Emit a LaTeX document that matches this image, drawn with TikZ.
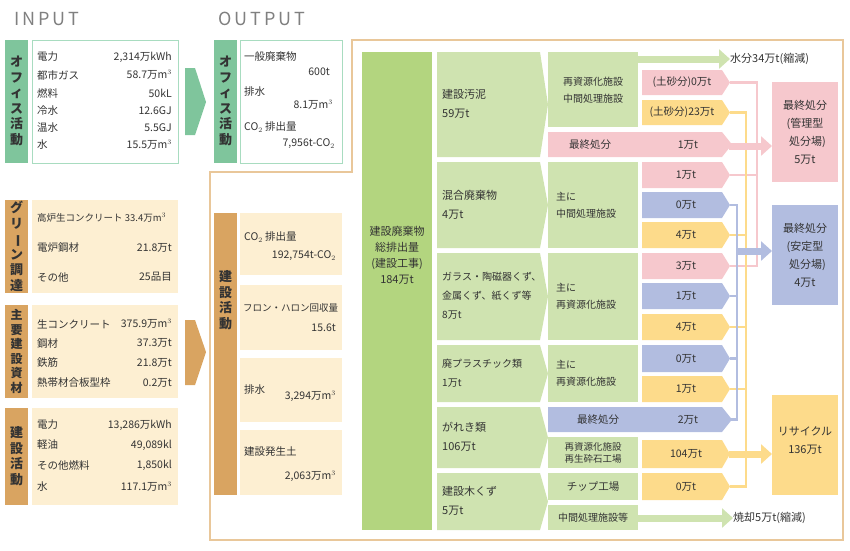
\documentclass[tikz,border=0pt]{standalone}
\usepackage{fontspec}
\usepackage{graphicx}
\setmainfont{Noto Sans CJK JP}
\usetikzlibrary{arrows.meta}
\definecolor{gl}{HTML}{7FC59C}
\definecolor{gb}{HTML}{A8DCC0}
\definecolor{tanc}{HTML}{D9A461}
\definecolor{tb}{HTML}{FDEFD2}
\definecolor{bg}{HTML}{B3D57F}
\definecolor{cg}{HTML}{CFE3B0}
\definecolor{pk}{HTML}{F6C8CD}
\definecolor{bl}{HTML}{B2BDE0}
\definecolor{ye}{HTML}{FDDB8B}
\definecolor{ol}{HTML}{E9C79A}
\definecolor{tx}{HTML}{333333}
\newcommand\chevbox[6]{\fill[#5] (#1,#2) -- (#3,#2) -- ({#3+#6},{(#2+#4)/2}) -- (#3,#4) -- (#1,#4) -- cycle;}
\newcommand\vt{\rotatebox[origin=c]{-90}{ー}}
\tikzset{
 t/.style={text=tx,font=\fontsize{10.5}{13}\selectfont,inner sep=0pt},
 tl/.style={t,anchor=west},
 tr/.style={t,anchor=east},
 vlab/.style={t,font=\fontsize{13}{15.5}\selectfont\bfseries,align=center},
 ttl/.style={text=gray,font=\fontsize{18}{18}\selectfont,inner sep=0pt,anchor=west},
 big/.style={line width=7pt,-{Triangle[length=11pt,width=19pt]}},
 jl/.style={line width=2.5pt}
}
\begin{document}
\begin{tikzpicture}[x=1pt,y=-1pt]
\useasboundingbox (0,0) rectangle (850,550);
\node[ttl] (tin) at (14,19) {I\,N\,P\,U\,T};
\node[ttl] (tout) at (218,19) {O\,U\,T\,P\,U\,T};
% office input
\fill[gl] (5,40) rectangle (28,163);
\node[vlab] (l1) at (16.5,101) {オ\\フ\\ィ\\ス\\活\\動};
\draw[gb,line width=1pt] (32,40) rectangle (178,163);
\node[tl] (a1) at (37,57) {電力}; \node[tr] (b1) at (172,57) {2,314万kWh};
\node[tl] (a2) at (37,75) {都市ガス}; \node[tr] (b2) at (172,75) {58.7万m$^3$};
\node[tl] (a3) at (37,93) {燃料}; \node[tr] (b3) at (172,93) {50kL};
\node[tl] (a4) at (37,111) {冷水}; \node[tr] (b4) at (172,111) {12.6GJ};
\node[tl] (a5) at (37,128) {温水}; \node[tr] (b5) at (172,128) {5.5GJ};
\node[tl] (a6) at (37,145) {水}; \node[tr] (b6) at (172,145) {15.5万m$^3$};
\fill[gl] (185,68) -- (195,68) -- (206,102) -- (195,135) -- (185,135) -- cycle;
% office output
\fill[gl] (214,40) rectangle (237,163);
\node[vlab] (l2) at (225.5,101) {オ\\フ\\ィ\\ス\\活\\動};
\draw[gb,line width=1pt] (240,40) rectangle (342,163);
\node[tl] (c1) at (244,57) {一般廃棄物}; \node[tr] (d1) at (330,72) {600t};
\node[tl] (c2) at (244,92) {排水}; \node[tr] (d2) at (333,105) {8.1万m$^3$};
\node[tl] (c3) at (244,127) {CO$_2$ 排出量}; \node[tr] (d3) at (335,144) {7,956t-CO$_2$};
% green procurement
\fill[tanc] (5,200) rectangle (28,293);
\node[vlab] (l3) at (16.5,246.5) {グ\\リ\\\vt\\ン\\調\\達};
\fill[tb] (32,200) rectangle (178,293);
\node[tl,font=\fontsize{9.5}{11}\selectfont] (e1) at (37,218) {高炉生コンクリート 33.4万m$^3$};
\node[tl] (e2) at (37,248) {電炉鋼材}; \node[tr] (f2) at (172,248) {21.8万t};
\node[tl] (e3) at (37,277) {その他}; \node[tr] (f3) at (172,277) {25品目};
% main materials
\fill[tanc] (5,305) rectangle (28,398);
\node[vlab,font=\fontsize{12}{14.5}\selectfont\bfseries] (l4) at (16.5,351.5) {主\\要\\建\\設\\資\\材};
\fill[tb] (32,305) rectangle (178,398);
\node[tl] (g1) at (37,324) {生コンクリート}; \node[tr] (h1) at (172,324) {375.9万m$^3$};
\node[tl] (g2) at (37,343) {鋼材}; \node[tr] (h2) at (172,343) {37.3万t};
\node[tl] (g3) at (37,363) {鉄筋}; \node[tr] (h3) at (172,363) {21.8万t};
\node[tl] (g4) at (37,383) {熱帯材合板型枠}; \node[tr] (h4) at (172,383) {0.2万t};
% construction input
\fill[tanc] (5,408) rectangle (28,505);
\node[vlab] (l5) at (16.5,456) {建\\設\\活\\動};
\fill[tb] (32,408) rectangle (178,505);
\node[tl] (i1) at (37,425) {電力}; \node[tr] (j1) at (172,425) {13,286万kWh};
\node[tl] (i2) at (37,445) {軽油}; \node[tr] (j2) at (172,445) {49,089kl};
\node[tl] (i3) at (37,465) {その他燃料}; \node[tr] (j3) at (172,465) {1,850kl};
\node[tl] (i4) at (37,487) {水}; \node[tr] (j4) at (172,487) {117.1万m$^3$};
\fill[tanc] (185,320) -- (195,320) -- (206,352) -- (195,385) -- (185,385) -- cycle;
% outline
\draw[ol,line width=1.2pt] (352,40) -- (843,40) -- (843,540) -- (210,540) -- (210,172) -- (352,172) -- cycle;
% construction output
\fill[tanc] (214,213) rectangle (237,495);
\node[vlab] (l6) at (225.5,300) {建\\設\\活\\動};
\fill[tb] (240,213) rectangle (342,275);
\node[tl] (k1) at (244,237) {CO$_2$ 排出量}; \node[tr] (m1) at (336,256) {192,754t-CO$_2$};
\fill[tb] (240,285) rectangle (342,350);
\node[tl,font=\fontsize{9.5}{11}\selectfont] (k2) at (243,308) {フロン・ハロン回収量}; \node[tr] (m2) at (336,328) {15.6t};
\fill[tb] (240,358) rectangle (342,422);
\node[tl] (k3) at (244,390) {排水}; \node[tr] (m3) at (336,396) {3,294万m$^3$};
\fill[tb] (240,430) rectangle (342,495);
\node[tl] (k4) at (244,452) {建設発生土}; \node[tr] (m4) at (336,476) {2,063万m$^3$};
% total
\fill[bg] (362,52) rectangle (432,530);
\node[t,align=center,font=\fontsize{11}{16}\selectfont] (tot) at (397,255) {建設廃棄物\\総排出量\\(建設工事)\\184万t};
% categories
\chevbox{437}{52}{540}{157}{cg}{8}
\node[tl,align=left,font=\fontsize{11}{19}\selectfont] (n1) at (442,104) {建設汚泥\\59万t};
\chevbox{437}{162}{540}{248}{cg}{8}
\node[tl,align=left,font=\fontsize{11}{19}\selectfont] (n2) at (442,205) {混合廃棄物\\4万t};
\chevbox{437}{253}{540}{340}{cg}{8}
\node[tl,align=left,font=\fontsize{10}{19}\selectfont] (n3) at (442,296) {ガラス・陶磁器くず、\\金属くず、紙くず等\\8万t};
\chevbox{437}{345}{540}{402}{cg}{8}
\node[tl,align=left,font=\fontsize{10}{19}\selectfont] (n4) at (442,373) {廃プラスチック類\\1万t};
\chevbox{437}{407}{540}{468}{cg}{8}
\node[tl,align=left,font=\fontsize{11}{19}\selectfont] (n5) at (442,437) {がれき類\\106万t};
\chevbox{437}{473}{540}{530}{cg}{8}
\node[tl,align=left,font=\fontsize{11}{19}\selectfont] (n6) at (442,501) {建設木くず\\5万t};
% facilities
\fill[cg] (548,52) rectangle (638,127);
\node[t,align=center,font=\fontsize{10}{17}\selectfont] (p1) at (593,90) {再資源化施設\\中間処理施設};
\chevbox{548}{132}{722}{157}{pk}{10}
\node[t] (p2) at (590,144.5) {最終処分};
\node[t] (q2) at (688,144.5) {1万t};
\fill[cg] (548,162) rectangle (638,248);
\node[tl,align=left,font=\fontsize{10}{17}\selectfont] (p3) at (556,205) {主に\\中間処理施設};
\fill[cg] (548,253) rectangle (638,340);
\node[tl,align=left,font=\fontsize{10}{17}\selectfont] (p4) at (556,296) {主に\\再資源化施設};
\fill[cg] (548,345) rectangle (638,402);
\node[tl,align=left,font=\fontsize{10}{17}\selectfont] (p5) at (556,373) {主に\\再資源化施設};
\chevbox{548}{407}{722}{432}{bl}{10}
\node[t] (p6) at (598,419.5) {最終処分};
\node[t] (q6) at (688,419.5) {2万t};
\fill[cg] (548,437) rectangle (638,468);
\node[t,align=center,font=\fontsize{9.5}{12}\selectfont] (p7) at (593,452.5) {再資源化施設\\再生砕石工場};
\fill[cg] (548,473) rectangle (638,500);
\node[t] (p8) at (593,486.5) {チップ工場};
\fill[cg] (548,505) rectangle (638,530);
\node[t,font=\fontsize{10}{11}\selectfont] (p9) at (593,517.5) {中間処理施設等};
% junction lines
\draw[pk,jl] (730,82.5) -| (757,266) -- (730,266);
\draw[pk,jl] (730,175) -- (757,175);
\draw[ye,jl] (730,112.5) -| (746,486.5) -- (730,486.5);
\draw[ye,jl] (730,235) -- (746,235);
\draw[ye,jl] (730,327) -- (746,327);
\draw[ye,jl] (730,389) -- (746,389);
\draw[bl,jl] (730,205) -| (737,419.5) -- (730,419.5);
\draw[bl,jl] (730,296) -- (737,296);
\draw[bl,jl] (730,358.5) -- (737,358.5);
% small chevrons
\chevbox{642}{70}{722}{95}{pk}{8}\node[t] (r1) at (682,82.5) {(土砂分)0万t};
\chevbox{642}{100}{722}{125}{ye}{8}\node[t] (r2) at (682,112.5) {(土砂分)23万t};
\chevbox{642}{162}{722}{188}{pk}{8}\node[t] (r3) at (686,175) {1万t};
\chevbox{642}{192}{722}{218}{bl}{8}\node[t] (r4) at (686,205) {0万t};
\chevbox{642}{222}{722}{248}{ye}{8}\node[t] (r5) at (686,235) {4万t};
\chevbox{642}{253}{722}{279}{pk}{8}\node[t] (r6) at (686,266) {3万t};
\chevbox{642}{283}{722}{309}{bl}{8}\node[t] (r7) at (686,296) {1万t};
\chevbox{642}{314}{722}{340}{ye}{8}\node[t] (r8) at (686,327) {4万t};
\chevbox{642}{345}{722}{372}{bl}{8}\node[t] (r9) at (686,358.5) {0万t};
\chevbox{642}{376}{722}{402}{ye}{8}\node[t] (r10) at (686,389) {1万t};
\chevbox{642}{440}{722}{468}{ye}{8}\node[t] (r11) at (686,454) {104万t};
\chevbox{642}{473}{722}{500}{ye}{8}\node[t] (r12) at (686,486.5) {0万t};
% destination boxes
\fill[pk] (772,82) rectangle (838,182);
\node[t,align=center,font=\fontsize{11}{18}\selectfont] (s1) at (805,132) {最終処分\\(管理型\\\ \ 処分場)\\5万t};
\fill[bl] (772,205) rectangle (838,305);
\node[t,align=center,font=\fontsize{11}{18}\selectfont] (s2) at (805,255) {最終処分\\(安定型\\\ \ 処分場)\\4万t};
\fill[ye] (772,395) rectangle (838,495);
\node[t,align=center,font=\fontsize{11}{18}\selectfont] (s3) at (805,440) {リサイクル\\136万t};
% big arrows
\draw[pk,big] (729,146) -- (772,146);
\draw[bl,big] (737,251) -- (772,251);
\draw[ye,big] (729,454) -- (772,454);
\node[tl,font=\fontsize{11}{12}\selectfont] (w1) at (730,59) {水分34万t(縮減)};
\node[tl,font=\fontsize{11}{12}\selectfont] (w2) at (733,518) {焼却5万t(縮減)};
\draw[cg,big] (638,59) -- (w1.west);
\draw[cg,big] (638,518) -- (w2.west);
\end{tikzpicture}
\end{document}
